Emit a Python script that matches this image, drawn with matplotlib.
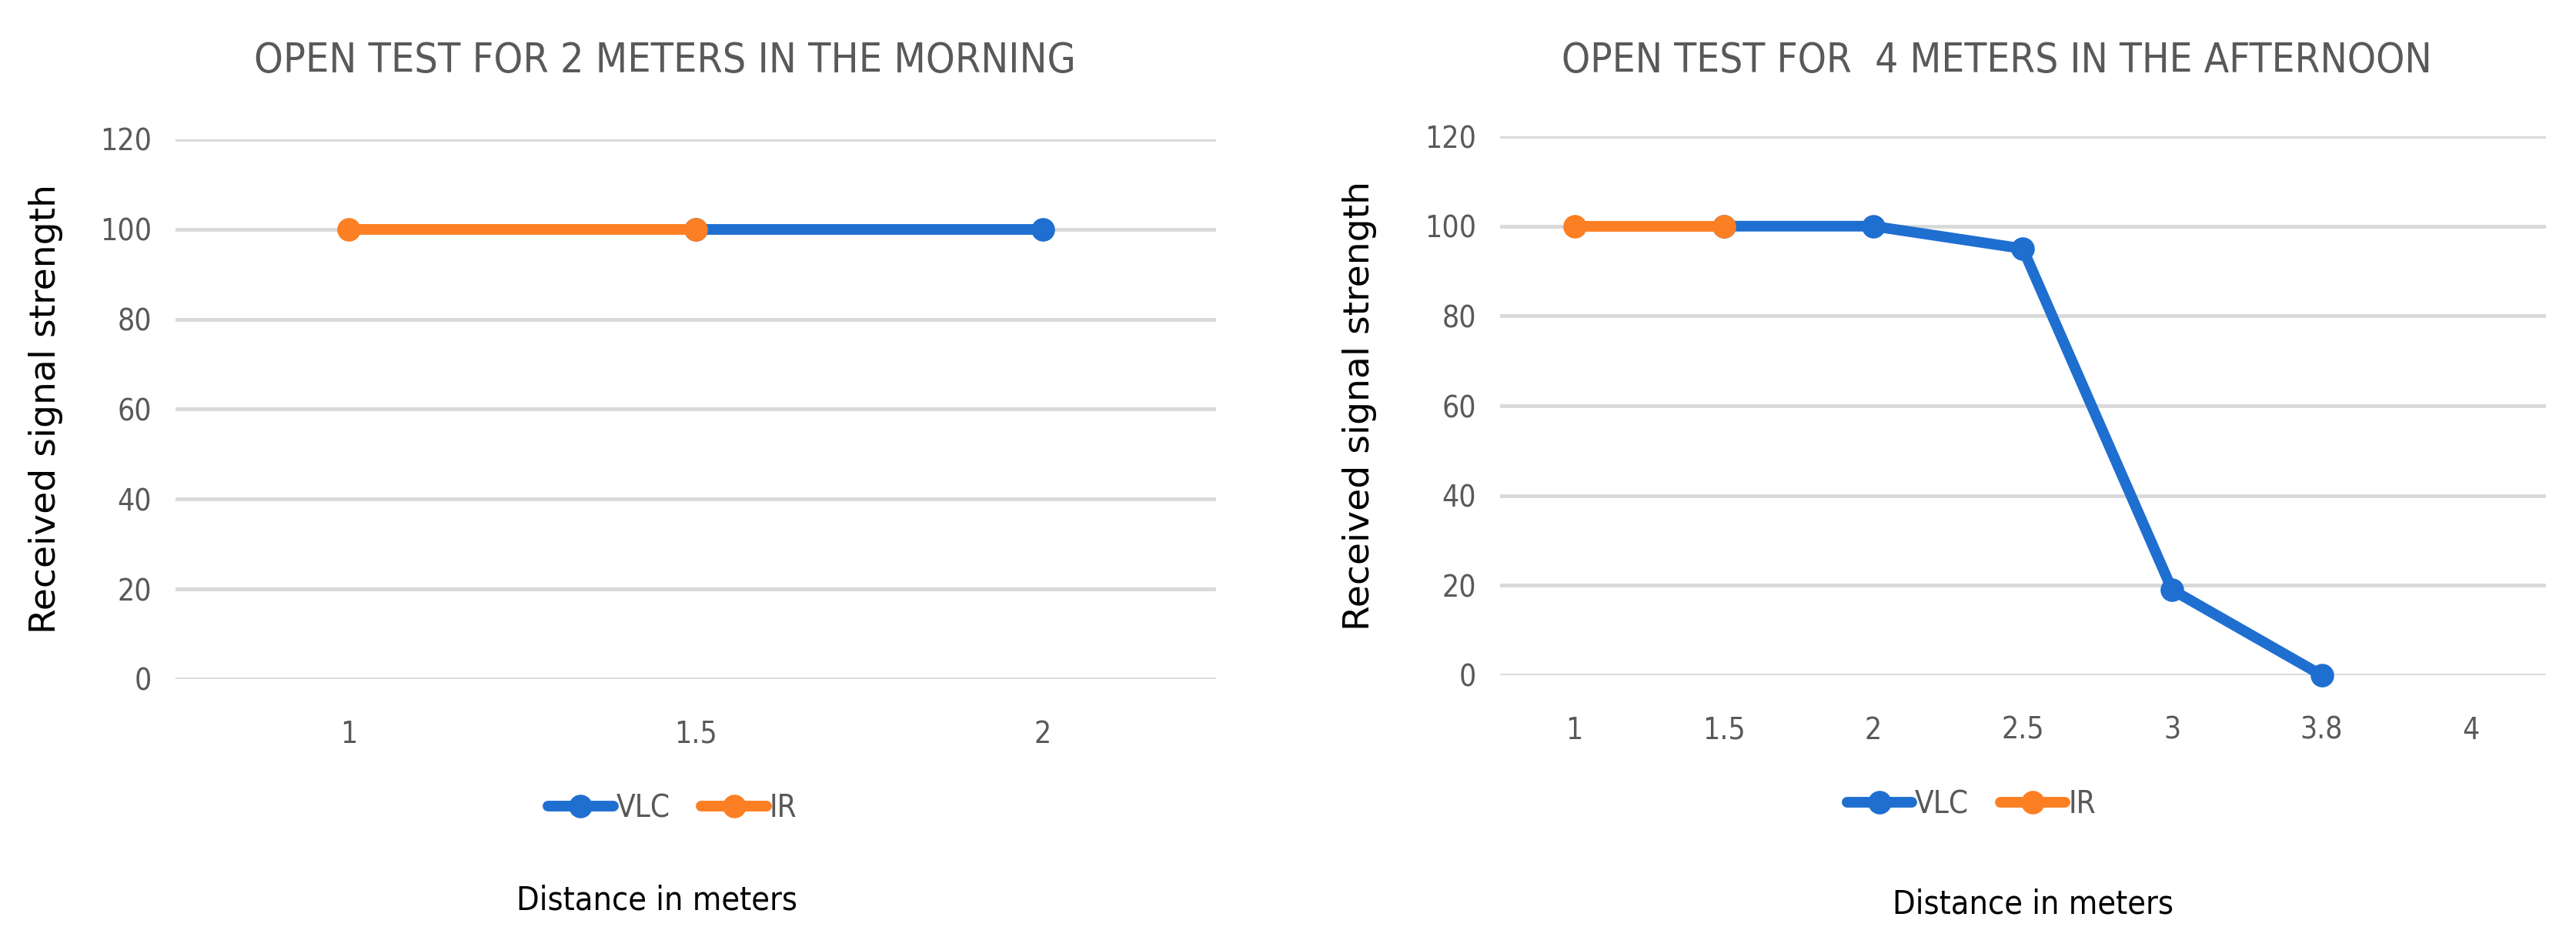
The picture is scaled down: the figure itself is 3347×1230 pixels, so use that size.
import numpy as np
import matplotlib
matplotlib.use("Agg")
import matplotlib.pyplot as plt
from matplotlib.lines import Line2D
from matplotlib import font_manager

# data
left_title = "OPEN TEST FOR 2 METERS IN THE MORNING"
left_cats = ["1", "1.5", "2"]
left_vlc = [np.nan, 100, 100]
left_ir = [100, 100, np.nan]

right_title = "OPEN TEST FOR  4 METERS IN THE AFTERNOON"
right_cats = ["1", "1.5", "2", "2.5", "3", "3.8", "4"]
right_vlc = [np.nan, 100, 100, 95, 19, 0, np.nan]
right_ir = [100, 100, np.nan, np.nan, np.nan, np.nan, np.nan]

yticks = [0, 20, 40, 60, 80, 100, 120]
series_names = ["VLC", "IR"]

blue = "#1f6fd1"
orange = "#fd7f23"
grey = "#595959"

narrow = dict(family="DejaVu Sans", stretch="condensed")

fig = plt.figure(figsize=(33.48, 12.30), dpi=100)

def draw(rect, cats, vlc, ir, ylab_x):
    ax = fig.add_axes(rect)
    x = np.arange(len(cats))
    for vals, col in ((vlc, blue), (ir, orange)):
        ax.plot(x, vals, color=col, lw=10, marker="o", ms=21,
                solid_capstyle="round", clip_on=False, zorder=3)
    ax.set_xlim(-0.5, len(cats) - 0.5)
    ax.set_ylim(0, 120)
    ax.set_yticks(yticks)
    ax.set_xticks(x)
    ax.set_xticklabels(cats)
    for s in ax.spines.values():
        s.set_visible(False)
    ax.grid(axis="y", color="#d9d9d9", lw=3.5)
    ax.set_axisbelow(True)
    ax.tick_params(length=0, colors=grey, labelsize=28)
    ax.tick_params(axis="x", pad=38)
    ax.tick_params(axis="y", pad=22)
    for lbl in ax.get_xticklabels() + ax.get_yticklabels():
        lbl.set_stretch("condensed")
    ax.set_ylabel("Received signal strength", fontsize=34, color="black")
    ax.yaxis.set_label_coords(ylab_x, 0.5)
    return ax

draw([0.068, 0.283, 0.404, 0.570], left_cats, left_vlc, left_ir, -0.108)
draw([0.582, 0.287, 0.406, 0.569], right_cats, right_vlc, right_ir, -0.117)

fig.text(0.258, 0.936, left_title, ha="center", va="center",
         fontsize=38.5, color=grey, **narrow)
fig.text(0.775, 0.936, right_title, ha="center", va="center",
         fontsize=38, color=grey, **narrow)

handles = [Line2D([], [], color=c, lw=10, marker="o", ms=21, solid_capstyle="round")
           for c in (blue, orange)]
for cx, cy in ((0.261, 0.146), (0.765, 0.150)):
    leg = fig.legend(handles, series_names, loc="center", bbox_to_anchor=(cx, cy),
                     ncol=2, frameon=False, handlelength=2.1, handletextpad=0.1,
                     columnspacing=1.0,
                     prop=font_manager.FontProperties(size=29, **narrow))
    for t in leg.get_texts():
        t.set_color(grey)

fig.text(0.255, 0.049, "Distance in meters", ha="center", va="center",
         fontsize=31, color="black", **narrow)
fig.text(0.789, 0.045, "Distance in meters", ha="center", va="center",
         fontsize=31, color="black", **narrow)

fig.savefig("out.png", dpi=100)
